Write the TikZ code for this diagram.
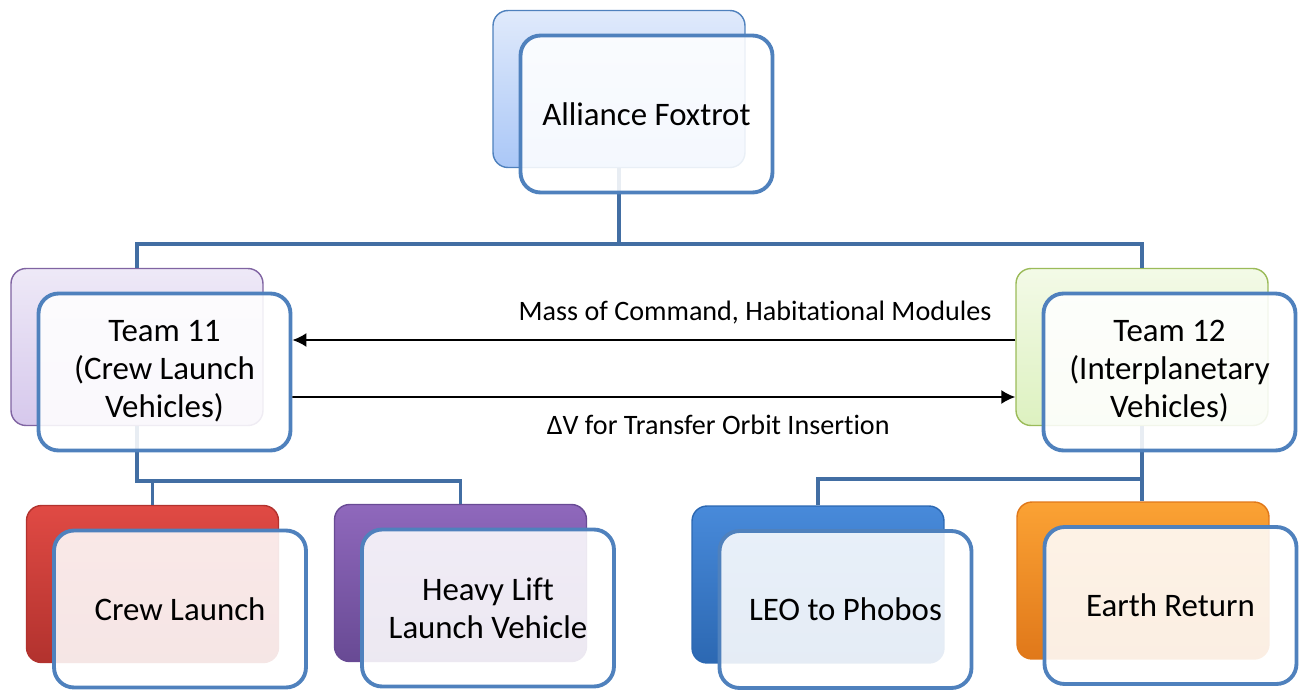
\documentclass[tikz,border=0pt]{standalone}
\usepackage{fontspec}
\setmainfont{Carlito}[Ligatures=CommonOff]
\usepackage{xcolor}
\usepackage{tikz}
\usetikzlibrary{positioning, arrows.meta}
\definecolor{frameblue}{RGB}{79,129,189}
\definecolor{linkblue}{RGB}{66,110,163}
\definecolor{paleblueA}{RGB}{224,234,251}
\definecolor{paleblueB}{RGB}{170,199,247}
\definecolor{palepurpleA}{RGB}{238,233,247}
\definecolor{palepurpleB}{RGB}{214,200,236}
\definecolor{palepurpleD}{RGB}{128,100,162}
\definecolor{palegreenA}{RGB}{243,250,231}
\definecolor{palegreenB}{RGB}{221,241,192}
\definecolor{palegreenD}{RGB}{155,187,89}
\definecolor{redA}{RGB}{224,74,68}
\definecolor{redB}{RGB}{178,50,46}
\definecolor{purpleA}{RGB}{143,104,188}
\definecolor{purpleB}{RGB}{104,74,148}
\definecolor{blueA}{RGB}{72,138,218}
\definecolor{blueB}{RGB}{44,104,178}
\definecolor{orangeA}{RGB}{251,162,52}
\definecolor{orangeB}{RGB}{224,120,26}

\begin{document}
\begin{tikzpicture}[
    x=0.02cm, y=0.02cm,
    every node/.style={font=\fontsize{18.7}{21.6}\selectfont},
    backbox/.style={
        rectangle,
        rounded corners=0.3cm,
        line width=0.8pt,
        minimum width=5.04cm,
        minimum height=3.14cm
    },
    frontbox/.style={
        rectangle,
        rounded corners=0.4cm,
        draw=frameblue,
        line width=2.2pt,
        fill=white,
        fill opacity=0.88,
        text opacity=1,
        align=center,
        minimum width=5.04cm,
        minimum height=3.14cm
    },
    link/.style={draw=linkblue, line width=2.2pt},
    arrow/.style={-{Latex[length=2.8mm, width=2.8mm]}, line width=1.1pt, draw=black},
    flowtext/.style={font=\fontsize{16}{19}\selectfont}
]
\useasboundingbox (0,0) rectangle (1306,-691);

% back boxes
\node[backbox, draw=frameblue, top color=paleblueA, bottom color=paleblueB] (allianceB) at (619,-89) {};
\node[backbox, draw=palepurpleD, top color=palepurpleA, bottom color=palepurpleB] (team11B) at (137,-347) {};
\node[backbox, draw=palegreenD, top color=palegreenA, bottom color=palegreenB] (team12B) at (1142,-347) {};
\node[backbox, draw=redB, top color=redA, bottom color=redB] (crewB) at (152.5,-584) {};
\node[backbox, draw=purpleB, top color=purpleA, bottom color=purpleB] (heavyB) at (460.5,-583) {};
\node[backbox, draw=blueB, top color=blueA, bottom color=blueB] (leoB) at (818,-584.5) {};
\node[backbox, draw=orangeB, top color=orangeA, bottom color=orangeB] (earthB) at (1143,-580.5) {};

% tree links
\draw[link] (allianceB.south) -- ++(0,-76) -| (team11B.north);
\draw[link] (allianceB.south) -- ++(0,-76) -| (team12B.north);
\draw[link] (team11B.south) -- ++(0,-55) -| (crewB.north);
\draw[link] (team11B.south) -- ++(0,-55) -| (heavyB.north);
\draw[link] (team12B.south) -- ++(0,-53) -| (leoB.north);
\draw[link] (team12B.south) -- (team12B.south |- earthB.north);

% front boxes
\node[frontbox] (alliance) at ([shift={(0.55cm,-0.5cm)}]allianceB) {Alliance Foxtrot};
\node[frontbox, text depth=0.12cm] (team11) at ([shift={(0.55cm,-0.5cm)}]team11B) {Team 11\\(Crew Launch\\Vehicles)};
\node[frontbox, text depth=0.12cm] (team12) at ([shift={(0.55cm,-0.5cm)}]team12B) {Team 12\\(Interplanetary\\Vehicles)};
\node[frontbox] (crew) at ([shift={(0.55cm,-0.5cm)}]crewB) {Crew Launch};
\node[frontbox] (heavy) at ([shift={(0.55cm,-0.5cm)}]heavyB) {Heavy Lift\\Launch Vehicle};
\node[frontbox] (leo) at ([shift={(0.55cm,-0.5cm)}]leoB) {LEO to Phobos};
\node[frontbox] (earth) at ([shift={(0.55cm,-0.5cm)}]earthB) {Earth Return};

% exchanged quantities
\draw[arrow] ([yshift=0.14cm]team12B.west) -- node[flowtext, pos=0.36, yshift=0.54cm]{Mass of Command, Habitational Modules} ([yshift=0.64cm]team11.east);
\draw[arrow] ([yshift=-0.5cm]team11.east) -- node[flowtext, pos=0.589, yshift=-0.56cm]{ΔV for Transfer Orbit Insertion} ([yshift=-1.0cm]team12B.west);

\end{tikzpicture}
\end{document}
